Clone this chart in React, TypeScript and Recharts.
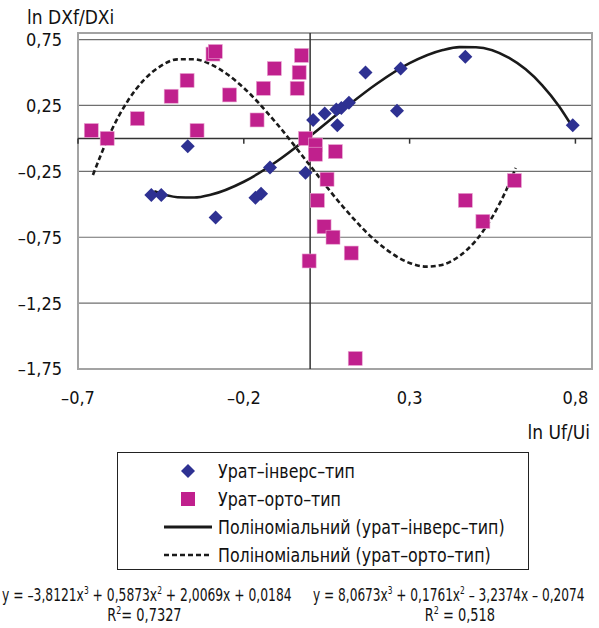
import React from 'react';
import { ComposedChart, Scatter, Line, XAxis, YAxis, CartesianGrid, ReferenceLine, ReferenceArea } from 'recharts';

// урат-інверс-тип points
const inverseX = [-0.479, -0.449, -0.369, -0.285, -0.165, -0.148, -0.121, -0.014, 0.009, 0.044, 0.079, 0.082, 0.094, 0.117, 0.167, 0.262, 0.273, 0.468, 0.792];
const inverseY = [-0.43, -0.43, -0.06, -0.6, -0.45, -0.42, -0.22, -0.26, 0.14, 0.19, 0.22, 0.1, 0.23, 0.27, 0.5, 0.21, 0.53, 0.62, 0.1];

// урат-орто-тип points
const orthoX = [-0.66, -0.612, -0.521, -0.419, -0.371, -0.341, -0.293, -0.286, -0.243, -0.16, -0.141, -0.108, -0.039, -0.033, -0.026, -0.014, 0.016, 0.016, 0.076, 0.051, 0.022, 0.042, 0.069, 0.124, -0.003, 0.136, 0.468, 0.521, 0.616];
const orthoY = [0.06, 0.0, 0.15, 0.32, 0.44, 0.06, 0.64, 0.66, 0.33, 0.14, 0.38, 0.53, 0.38, 0.5, 0.63, 0.0, -0.05, -0.12, -0.1, -0.31, -0.47, -0.67, -0.75, -0.87, -0.93, -1.67, -0.47, -0.63, -0.32];

// trend curves
const solidX = [-0.47, -0.4, -0.35, -0.3, -0.2, -0.1, 0, 0.1, 0.2, 0.3, 0.4, 0.45, 0.5, 0.6, 0.65, 0.7, 0.75, 0.79];
const solidY = [-0.4, -0.446, -0.449, -0.428, -0.329, -0.173, 0.018, 0.221, 0.413, 0.571, 0.671, 0.693, 0.692, 0.611, 0.524, 0.403, 0.246, 0.091];

const dashX = [-0.655, -0.6, -0.55, -0.5, -0.45, -0.4, -0.35, -0.3, -0.25, -0.2, -0.1, 0, 0.1, 0.2, 0.3, 0.35, 0.4, 0.45, 0.5, 0.55, 0.6, 0.62];
const dashY = [-0.278, 0.056, 0.284, 0.447, 0.55, 0.6, 0.601, 0.562, 0.487, 0.383, 0.11, -0.207, -0.521, -0.783, -0.945, -0.973, -0.958, -0.893, -0.774, -0.593, -0.344, -0.224];

const xTicks = [-0.7, -0.2, 0.3, 0.8];
const yTicks = [-1.75, -1.25, -0.75, -0.25, 0.25, 0.75];

const BLUE = '#2e3192';
const PINK = '#c0208d';
const FONT = "'Liberation Sans Narrow', 'Arial Narrow', 'DejaVu Sans Condensed', sans-serif";

const zip = (xs: number[], ys: number[]) => xs.map((x, i) => ({ x, y: ys[i] }));
const inverseData = zip(inverseX, inverseY);
const orthoData = zip(orthoX, orthoY);
const solidData = zip(solidX, solidY);
const dashData = zip(dashX, dashY);

const fmt = (d: number) => (v: number) => v.toFixed(d).replace('.', ',').replace('-', '–');

const Diamond = (props: any) => {
    const { cx, cy } = props;
    return <polygon points={`${cx},${cy - 7} ${cx + 7},${cy} ${cx},${cy + 7} ${cx - 7},${cy}`} fill={BLUE} />;
};

const Square = (props: any) => {
    const { cx, cy } = props;
    return <rect x={cx - 7} y={cy - 7} width={14} height={14} fill={PINK} stroke="#e9a6d2" strokeWidth={0.6} />;
};

// squeeze text horizontally, the original uses a narrow face
const Narrow = ({ s, origin = 'left', children }: { s: number; origin?: string; children: React.ReactNode }) => (
    <span style={{ display: 'inline-block', whiteSpace: 'nowrap', transform: `scaleX(${s})`, transformOrigin: origin }}>{children}</span>
);

const sup = { fontSize: 11, lineHeight: 0 };
const eqStyle: React.CSSProperties = { position: 'absolute', fontSize: 18, lineHeight: '18px', whiteSpace: 'nowrap' };

const App: React.FC = () => {
    return (
        <div style={{ position: 'absolute', left: 0, top: 0, width: 599, height: 628, background: '#fff', fontFamily: FONT, color: '#111', overflow: 'hidden' }}>
            <ComposedChart width={599} height={440} margin={{ top: 33, right: 7, left: 0, bottom: 31 }}>
                <CartesianGrid vertical={false} stroke="#6f6f6f" strokeWidth={1.2} />
                <ReferenceArea x1={-0.7} x2={0.85} y1={-1.75} y2={0.8} fill="none" stroke="#a3a3a3" strokeWidth={2} />
                <XAxis
                    type="number"
                    dataKey="x"
                    domain={[-0.7, 0.85]}
                    ticks={xTicks}
                    allowDataOverflow
                    axisLine={false}
                    tickLine={false}
                    tickSize={0}
                    tickMargin={22}
                    height={40}
                    tickFormatter={fmt(1)}
                    tick={{ fill: '#111', fontSize: 18, fontFamily: FONT }}
                />
                <YAxis
                    type="number"
                    dataKey="y"
                    domain={[-1.75, 0.8]}
                    ticks={yTicks}
                    allowDataOverflow
                    axisLine={false}
                    tickLine={false}
                    tickSize={0}
                    tickMargin={16}
                    width={78}
                    tickFormatter={fmt(2)}
                    tick={{ fill: '#111', fontSize: 18, fontFamily: FONT }}
                />
                <ReferenceLine y={0} stroke="#333" strokeWidth={1.5} />
                <ReferenceLine x={0} stroke="#333" strokeWidth={1.5} />
                {xTicks.map((t) => (
                    <ReferenceLine key={t} segment={[{ x: t, y: 0 }, { x: t, y: -0.04 }]} stroke="#333" strokeWidth={1.5} />
                ))}
                <Scatter name="Урат–інверс–тип" data={inverseData} shape={<Diamond />} isAnimationActive={false} />
                <Scatter name="Урат–орто–тип" data={orthoData} shape={<Square />} isAnimationActive={false} />
                <Line data={solidData} dataKey="y" type="monotone" stroke="#1a1a1a" strokeWidth={2.6} dot={false} activeDot={false} isAnimationActive={false} />
                <Line data={dashData} dataKey="y" type="monotone" stroke="#1a1a1a" strokeWidth={2.6} strokeDasharray="5 3" dot={false} activeDot={false} isAnimationActive={false} />
            </ComposedChart>

            <div style={{ position: 'absolute', left: 27, top: 6, fontSize: 19 }}>ln DXf/DXi</div>
            <div style={{ position: 'absolute', right: 9, top: 421, fontSize: 19 }}>ln Uf/Ui</div>

            <div style={{ position: 'absolute', left: 117, top: 452, width: 412, height: 118, border: '1px solid #222', boxSizing: 'border-box' }}>
                {[
                    { label: 'Урат–інверс–тип', mark: <svg width={50} height={16}><polygon points="25,1 32,8 25,15 18,8" fill={BLUE} /></svg> },
                    { label: 'Урат–орто–тип', mark: <svg width={50} height={16}><rect x={18} y={1} width={14} height={14} fill={PINK} /></svg> },
                    { label: 'Поліноміальний (урат–інверс–тип)', mark: <svg width={50} height={16}><line x1={1} y1={8} x2={49} y2={8} stroke="#1a1a1a" strokeWidth={3} /></svg> },
                    { label: 'Поліноміальний (урат–орто–тип)', mark: <svg width={50} height={16}><line x1={1} y1={8} x2={49} y2={8} stroke="#1a1a1a" strokeWidth={2.4} strokeDasharray="5 3" /></svg> },
                ].map((row, i) => (
                    <div key={i} style={{ position: 'absolute', left: 45, top: 4 + i * 28, height: 28, display: 'flex', alignItems: 'center', gap: 5, fontSize: 20, whiteSpace: 'nowrap' }}>
                        {row.mark}
                        <Narrow s={0.88}>{row.label}</Narrow>
                    </div>
                ))}
            </div>

            <div style={{ ...eqStyle, left: 2, top: 586 }}>
                <Narrow s={0.76}>y = –3,8121x<sup style={sup}>3</sup> + 0,5873x<sup style={sup}>2</sup> + 2,0069x + 0,0184</Narrow>
            </div>
            <div style={{ ...eqStyle, left: 0, top: 606, width: 288, textAlign: 'center' }}>
                <Narrow s={0.8} origin="center">R<sup style={sup}>2</sup>= 0,7327</Narrow>
            </div>
            <div style={{ ...eqStyle, left: 313, top: 586 }}>
                <Narrow s={0.75}>y = 8,0673x<sup style={sup}>3</sup> + 0,1761x<sup style={sup}>2</sup> – 3,2374x – 0,2074</Narrow>
            </div>
            <div style={{ ...eqStyle, left: 310, top: 606, width: 300, textAlign: 'center' }}>
                <Narrow s={0.8} origin="center">R<sup style={sup}>2</sup> = 0,518</Narrow>
            </div>
        </div>
    );
};

export default App;
